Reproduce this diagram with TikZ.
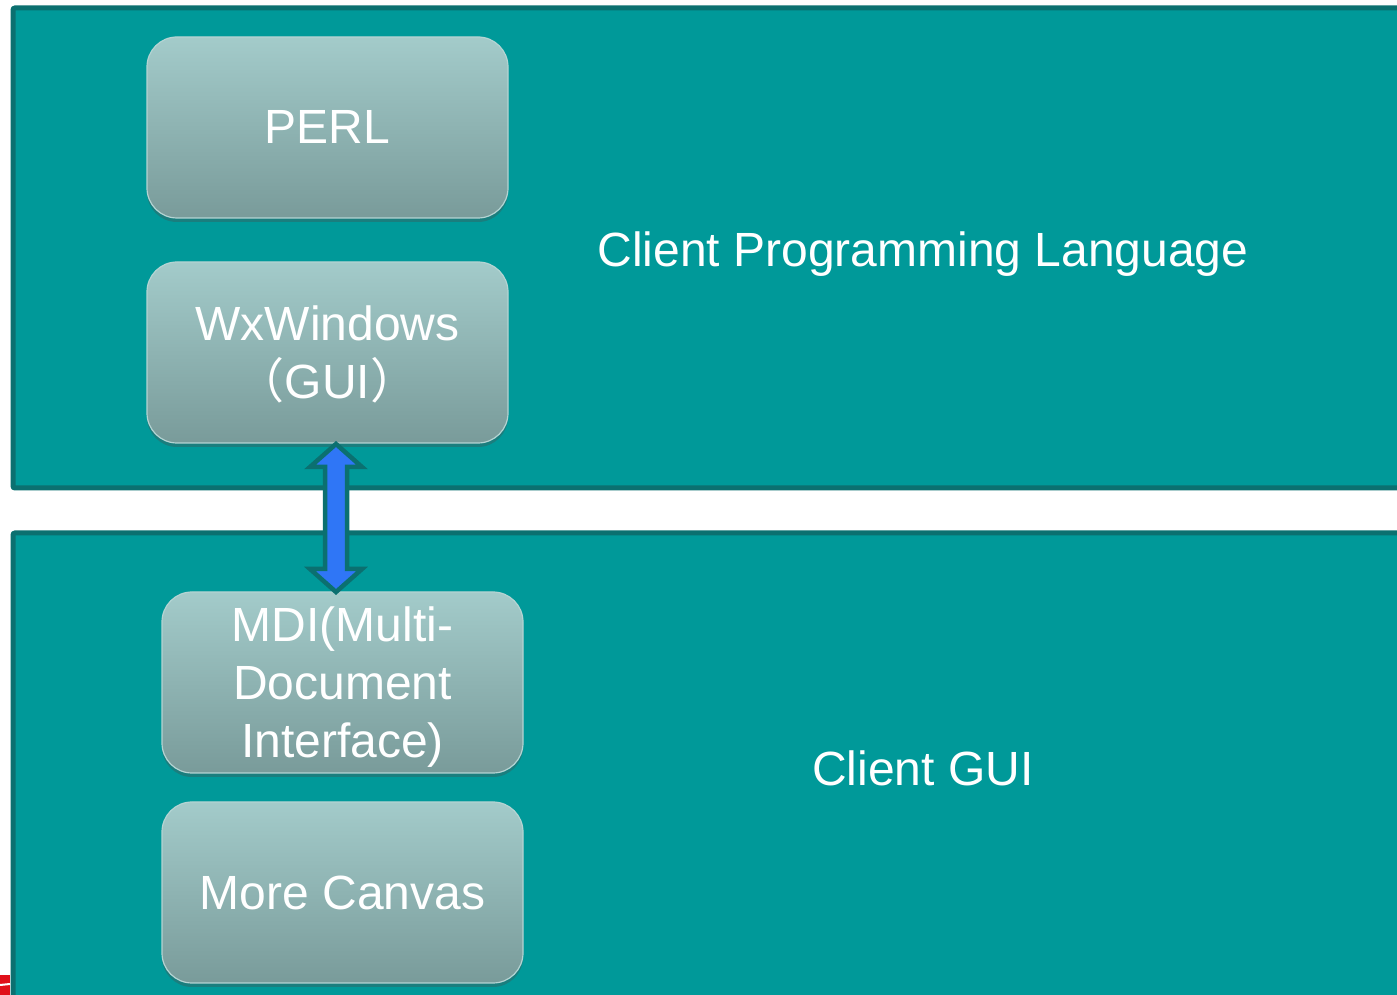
\documentclass[tikz,border=0pt]{standalone}
\usepackage{fontspec}
\setmainfont{Liberation Sans}
\newfontfamily\cjkfont{Noto Sans CJK SC}
\usetikzlibrary{shadows,calc}
\definecolor{panelfill}{HTML}{009999}
\definecolor{paneledge}{HTML}{0B7070}
\definecolor{boxtop}{HTML}{A3CBCA}
\definecolor{boxbot}{HTML}{799B9A}
\definecolor{boxedge}{HTML}{B4D4D3}
\definecolor{arrowblue}{HTML}{2F76F6}
\definecolor{markred}{HTML}{E0101A}

\tikzset{
  panel/.style={fill=panelfill, draw=paneledge, line width=5pt, rounded corners=2pt},
  modbox/.style={rectangle, rounded corners=30pt, minimum width=361pt, minimum height=181pt,
    inner sep=0pt, draw=boxedge, line width=1.2pt, top color=boxtop, bottom color=boxbot,
    text=white, align=center, font=\fontsize{48}{58}\selectfont, text depth=0pt,
    drop shadow={shadow xshift=0pt, shadow yshift=-4pt, opacity=0.35, fill=black!70}},
  layerlabel/.style={text=white, font=\fontsize{48}{58}\selectfont, inner sep=0pt},
  blockarrow/.style={fill=arrowblue, draw=paneledge, line width=4.5pt, line join=miter}
}

\begin{document}
\begin{tikzpicture}[x=1pt, y=1pt]
\useasboundingbox (0,0) rectangle (1397,995);
\clip (0,0) rectangle (1397,995);
\fill[white] (0,0) rectangle (1397,995);

% two layers
\draw[panel] (13,987) rectangle (1430,507);
\draw[panel] (13,462) rectangle (1430,-30);

% small red fragment at the lower left edge
\fill[markred] (0,0) rectangle (10,20);
\draw[white, line width=2pt] (0,10) -- (10,11);

% layer titles
\node[layerlabel] (lang) at (923,741) {Client Programming Language};
\node[layerlabel] (gui) at (923,227) {Client GUI};

% module boxes
\node[modbox] (perl) at (327.5,867.5) {PERL};
\node[modbox] (wx) at (327.5,642.5) {WxWindows\\{\cjkfont （}GUI{\cjkfont ）}};
\node[modbox] (mdi) at (342.5,312.5) {MDI(Multi-\\Document\\Interface)};
\node[modbox] (canvas) at (342.5,102.5) {More Canvas};

% double-headed block arrow linking the two layers
\coordinate (atop) at (336,551);
\coordinate (abot) at (336,403);
\draw[blockarrow]
  (atop) -- ++(26,-23) -- ++(-15,0) -- ($(abot)+(11,23)$) -- ++(15,0)
  -- (abot) -- ++(-26,23) -- ++(15,0) -- ($(atop)+(-11,-23)$) -- ++(-15,0) -- cycle;
\end{tikzpicture}
\end{document}
